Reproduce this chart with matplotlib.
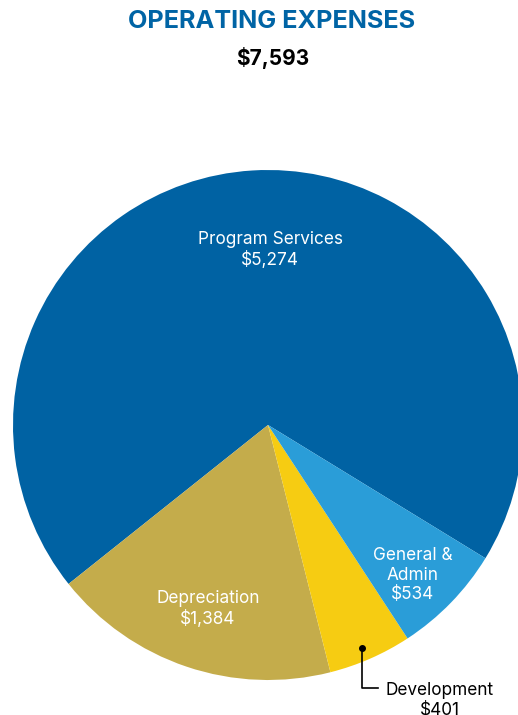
import matplotlib.pyplot as plt

# Operating expenses (thousands of dollars)
categories = ['Program Services', 'Depreciation', 'Development', 'General &\nAdmin']
values = [5274, 1384, 401, 534]
value_labels = ['$5,274', '$1,384', '$401', '$534']
total_label = '$7,593'
colors = ['#0062a3', '#c4ac4b', '#f6cc12', '#2a9dd8']

plt.rcParams['font.family'] = ['Inter', 'DejaVu Sans']

fig = plt.figure(figsize=(5.18, 7.15), dpi=100)
ax = fig.add_axes([0, 0, 1, 1])

# pie in pixel coordinates (y up)
cx, cy, r = 268, 715 - 425, 255
wedges, _ = ax.pie(values, colors=colors, startangle=-31.5, counterclock=True,
                   center=(cx, cy), radius=r, wedgeprops=dict(linewidth=0))
ax.set_xlim(0, 518)
ax.set_ylim(0, 715)
ax.set_aspect('equal')
ax.axis('off')

# slice labels
lab_font = dict(color='white', fontsize=12.4, ha='center', va='center', linespacing=1.2)
ax.text(270, 715 - 250, f'{categories[0]}\n{value_labels[0]}', **lab_font)
ax.text(208, 715 - 609, f'{categories[1]}\n{value_labels[1]}', **lab_font)
ax.text(413, 715 - 575, f'{categories[3]}\n{value_labels[3]}', **lab_font)

# Development callout
ax.plot([362], [715 - 648], 'o', color='black', markersize=4)
ax.plot([362, 362, 378], [715 - 648, 715 - 688, 715 - 688], color='black', linewidth=1.2)
ax.text(440, 715 - 682, f'{categories[2]}\n{value_labels[2]}', color='black',
        fontsize=12.4, ha='center', va='top', linespacing=1.2)

# titles
fig.text(272 / 518, 1 - 22 / 715, 'OPERATING EXPENSES', color='#0064a5', fontsize=18.2,
         fontweight='bold', ha='center', va='center')
fig.text(273 / 518, 1 - 58 / 715, total_label, color='black', fontsize=15,
         fontweight='bold', ha='center', va='center')

fig.savefig('out.png', dpi=100)
